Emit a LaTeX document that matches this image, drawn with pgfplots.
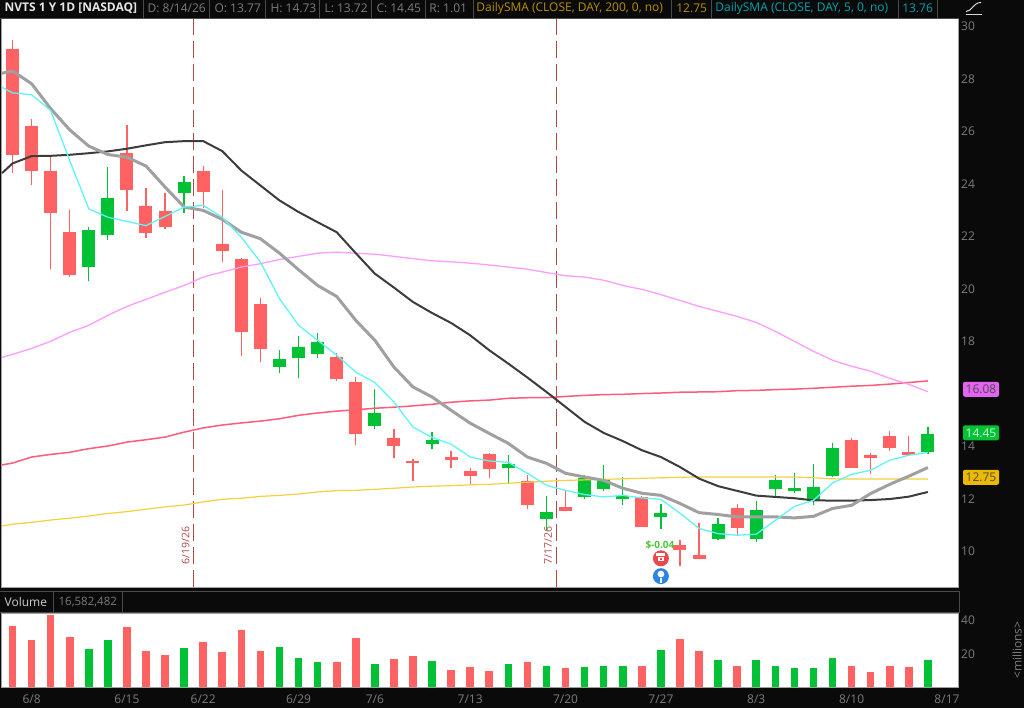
\documentclass[border=0pt]{standalone}
\usepackage{fontspec}
\setmainfont{Open Sans}
\usepackage{pgfplots}
\usepackage{pgfplotstable}
\pgfplotsset{compat=1.18}
\definecolor{bgc}{HTML}{0A0A0A}
\definecolor{sepc}{HTML}{4A4A4A}
\definecolor{txtc}{HTML}{7C7C7C}
\definecolor{cred}{HTML}{FF6262}
\definecolor{cgreen}{HTML}{00C234}
\definecolor{smacy}{HTML}{60F4F4}
\definecolor{smagr}{HTML}{A0A0A0}
\definecolor{smadk}{HTML}{3C3C3C}
\definecolor{smama}{HTML}{FF9CFF}
\definecolor{smare}{HTML}{FF5C7C}
\definecolor{smaye}{HTML}{F4D040}
\definecolor{dashc}{HTML}{B04848}
\definecolor{phonec}{HTML}{E84A4A}
\definecolor{bulbc}{HTML}{2A86E0}
\definecolor{tagma}{HTML}{E264F0}
\definecolor{tagye}{HTML}{EDB800}
\definecolor{hdye}{HTML}{B89000}
\definecolor{hdcy}{HTML}{00A4AE}
% x low high bot top
\pgfplotstableread{
x low high bot top
0 24.41 29.47 25.12 29.15
1 23.97 26.47 24.49 26.20
2 20.74 25.01 22.89 24.51
3 20.45 22.99 20.51 22.16
6 22.96 26.23 23.75 25.17
7 21.92 23.83 22.11 23.15
8 22.30 23.65 22.34 22.95
10 23.07 24.68 23.71 24.51
11 21.02 23.75 21.43 21.71
12 17.43 21.16 18.34 21.12
13 17.20 19.64 17.70 19.41
17 16.48 17.54 16.55 17.40
18 14.04 16.63 14.48 16.45
20 13.54 14.65 14.00 14.31
21 12.67 13.50 13.35 13.43
23 13.16 13.81 13.49 13.59
24 12.55 13.16 12.88 13.05
25 12.78 13.74 13.12 13.71
27 11.60 12.89 11.75 12.67
29 11.55 12.32 11.55 11.69
33 10.93 12.11 10.93 12.07
35 9.44 10.42 10.03 10.24
36 9.72 11.08 9.72 9.87
38 10.61 11.79 10.89 11.65
44 13.16 14.30 13.16 14.23
45 12.93 13.73 13.57 13.65
46 13.81 14.57 13.94 14.38
47 13.66 14.38 13.66 13.80
}\redc
\pgfplotstableread{
x low high bot top
4 20.29 22.35 20.82 22.24
5 21.85 24.64 22.04 23.45
9 22.91 24.29 23.64 24.07
14 16.78 17.66 17.01 17.31
15 16.59 18.19 17.35 17.77
16 17.35 18.30 17.50 17.96
19 14.65 16.17 14.77 15.25
22 13.89 14.53 14.08 14.23
26 12.59 13.66 13.17 13.31
28 10.80 12.11 11.22 11.48
30 11.98 12.89 12.06 12.78
31 12.30 13.28 12.37 12.70
32 11.75 12.83 11.98 12.09
34 10.84 11.79 11.31 11.45
37 10.42 11.26 10.47 11.03
39 10.34 11.90 10.47 11.57
40 12.07 12.89 12.37 12.73
41 12.21 12.98 12.29 12.40
42 11.75 13.31 11.92 12.44
43 12.82 14.11 12.86 13.92
48 13.72 14.73 13.77 14.45
}\greenc
% x sma5cyan grey dark magenta red yellow
\pgfplotstableread{
x cy gr dk ma re ye
-0.55 27.68 28.22 24.41 17.39 13.29 10.96
0 27.47 28.30 24.78 17.50 13.36 11.03
1 27.40 27.82 25.06 17.73 13.59 11.10
2 26.80 26.87 25.07 18.00 13.69 11.19
3 24.89 26.06 25.11 18.34 13.77 11.26
4 23.05 25.44 25.17 18.61 13.91 11.34
5 22.73 25.12 25.24 18.99 14.01 11.44
6 22.57 25.02 25.34 19.33 14.16 11.51
7 22.41 24.68 25.47 19.60 14.25 11.60
8 22.76 23.88 25.59 19.87 14.35 11.69
9 23.12 23.12 25.63 20.13 14.54 11.76
10 23.18 22.99 25.63 20.45 14.70 11.88
11 22.73 22.65 25.25 20.64 14.81 11.98
12 21.97 22.16 24.51 20.83 14.89 12.02
13 21.02 21.91 23.94 20.96 14.96 12.09
14 19.63 21.36 23.37 21.12 15.05 12.13
15 18.61 20.73 22.93 21.24 15.18 12.18
16 18.04 20.13 22.54 21.36 15.27 12.26
17 17.47 19.71 22.16 21.40 15.34 12.31
18 16.83 18.80 21.36 21.36 15.39 12.32
19 16.43 18.04 20.58 21.32 15.45 12.36
20 15.69 17.02 20.05 21.24 15.49 12.40
21 14.73 16.26 19.50 21.15 15.54 12.45
22 14.34 15.88 19.08 21.07 15.60 12.48
23 14.08 15.37 18.70 21.03 15.68 12.50
24 13.59 14.88 18.23 20.98 15.73 12.53
25 13.44 14.49 17.66 20.91 15.76 12.55
26 13.39 14.11 17.15 20.83 15.83 12.59
27 12.97 13.59 16.62 20.75 15.85 12.63
28 12.51 13.35 16.07 20.62 15.85 12.67
29 12.32 12.97 15.50 20.50 15.90 12.70
30 12.16 12.83 14.93 20.45 15.94 12.72
31 12.07 12.70 14.51 20.33 15.97 12.74
32 12.13 12.40 14.20 20.13 15.98 12.76
33 12.03 12.21 13.85 19.98 16.01 12.78
34 11.98 12.13 13.59 19.78 16.03 12.80
35 11.45 11.82 13.21 19.56 16.06 12.82
36 10.87 11.47 12.77 19.33 16.07 12.83
37 10.67 11.40 12.48 19.14 16.08 12.83
38 10.61 11.31 12.30 18.95 16.12 12.83
39 10.65 11.31 12.12 18.72 16.13 12.83
40 11.18 11.31 12.07 18.38 16.16 12.83
41 11.71 11.27 12.02 18.00 16.18 12.83
42 11.94 11.33 11.94 17.62 16.21 12.80
43 12.60 11.63 11.93 17.28 16.25 12.76
44 12.93 11.75 11.93 17.05 16.29 12.75
45 13.09 12.20 11.95 16.86 16.32 12.75
46 13.47 12.55 11.99 16.59 16.37 12.75
47 13.66 12.86 12.08 16.36 16.43 12.75
48 13.76 13.19 12.26 16.08 16.49 12.75
}\smas
\pgfplotstableread{
x v
0 35.9
1 28.0
2 42.2
3 29.4
6 35.1
7 21.2
8 19.2
10 26.3
11 20.6
12 33.9
13 21.2
17 14.7
18 28.8
20 16.7
21 18.6
23 10.2
24 11.6
25 9.6
27 14.7
29 11.0
33 12.7
35 28.2
36 21.2
38 12.2
44 12.7
45 9.0
46 12.7
47 11.6
}\redv
\pgfplotstableread{
x v
4 22.5
5 28.0
9 23.1
14 23.7
15 17.3
16 14.7
19 13.5
22 15.3
26 13.5
28 12.7
30 11.6
31 12.2
32 12.2
34 21.8
37 16.1
39 16.1
40 12.2
41 11.0
42 11.0
43 17.3
48 16.1
}\greenv
\begin{document}
\begin{tikzpicture}[x=1pt,y=1pt]
\fill[bgc] (0,0) rectangle (1024,708);
\begin{axis}[
  at={(1pt,121pt)}, anchor=south west, scale only axis,
  width=957pt, height=569pt,
  xmin=-0.5765, xmax=49.58, ymin=8.629, ymax=30.305,
  axis background/.style={fill=white},
  axis line style={draw=smagr,line width=1pt},
  xtick=\empty,
  ytick={10,12,14,18,20,22,24,26,28,30},
  ytick pos=right, yticklabel pos=right,
  major tick length=0pt,
  yticklabel style={font=\fontsize{12}{14}\selectfont, text=txtc, inner sep=0pt, xshift=3pt,
    /pgf/number format/assume math mode=true},
  clip mode=individual,
]
\addplot[dashc, line width=1.2pt, dash pattern=on 17pt off 6pt, forget plot] coordinates {(9.49,8.629)(9.49,30.305)};
\addplot[dashc, line width=1.2pt, dash pattern=on 17pt off 6pt, forget plot] coordinates {(28.51,8.629)(28.51,30.305)};
% wicks
\addplot[draw=none, mark=none, forget plot, error bars/.cd, y dir=plus, y explicit, error mark=none,
  error bar style={draw=cred,line width=1.3pt}]
  table[x=x,y=low,y error plus expr=\thisrow{high}-\thisrow{low}] {\redc};
\addplot[draw=none, mark=none, forget plot, error bars/.cd, y dir=plus, y explicit, error mark=none,
  error bar style={draw=cgreen,line width=1.3pt}]
  table[x=x,y=low,y error plus expr=\thisrow{high}-\thisrow{low}] {\greenc};
% bodies
\addplot[draw=none, mark=none, forget plot, error bars/.cd, y dir=plus, y explicit, error mark=none,
  error bar style={draw=cred,line width=13pt}]
  table[x=x,y=bot,y error plus expr=\thisrow{top}-\thisrow{bot}] {\redc};
\addplot[draw=none, mark=none, forget plot, error bars/.cd, y dir=plus, y explicit, error mark=none,
  error bar style={draw=cgreen,line width=13pt}]
  table[x=x,y=bot,y error plus expr=\thisrow{top}-\thisrow{bot}] {\greenc};
% moving averages
\addplot[smaye, line width=1.2pt] table[x=x,y=ye] {\smas};
\addplot[smare, line width=1.5pt] table[x=x,y=re] {\smas};
\addplot[smama, line width=1.3pt] table[x=x,y=ma] {\smas};
\addplot[smadk, line width=2pt] table[x=x,y=dk] {\smas};
\addplot[smagr, line width=3pt] table[x=x,y=gr] {\smas};
\addplot[smacy, line width=1.3pt] table[x=x,y=cy] {\smas};
% annotations
\node[rotate=90, text=dashc, font=\fontsize{10.5}{12}\selectfont, inner sep=0pt] at (axis cs:9.08,10.23) {6/19/26};
\node[rotate=90, text=dashc, font=\fontsize{10.5}{12}\selectfont, inner sep=0pt] at (axis cs:28.09,10.23) {7/17/26};
\node[text=cgreen!70!smaye, font=\bfseries\fontsize{10}{12}\selectfont, inner sep=0pt] at (axis cs:33.95,10.23) {\$-0.04};
\fill[phonec] (axis cs:34,9.73) circle[radius=8pt];
\fill[white] (axis cs:33.84,9.62) rectangle (axis cs:34.16,9.78);
\fill[phonec] (axis cs:33.96,9.67) rectangle (axis cs:34.04,9.73);
\fill[white] (axis cs:33.76,9.82) rectangle (axis cs:34.24,9.92);
\fill[bulbc] (axis cs:34,9.05) circle[radius=8pt];
\fill[white] (axis cs:34,9.13) circle[radius=3.4pt];
\fill[white] (axis cs:33.93,8.80) rectangle (axis cs:34.07,8.98);
\end{axis}
\begin{axis}[
  at={(1pt,21pt)}, anchor=south west, scale only axis,
  width=957pt, height=74pt,
  xmin=-0.5765, xmax=49.58, ymin=0, ymax=43.5,
  axis background/.style={fill=white},
  axis line style={draw=smagr,line width=1pt},
  xtick={1,6,10,15,19,24,29,34,39,44,49},
  xticklabels={6/8,6/15,6/22,6/29,7/6,7/13,7/20,7/27,8/3,8/10,8/17},
  xtick pos=bottom,
  ytick={20,40},
  ytick pos=right, yticklabel pos=right,
  major tick length=0pt,
  xticklabel style={font=\fontsize{12}{14}\selectfont, text=txtc, inner sep=0pt, yshift=-7pt},
  yticklabel style={font=\fontsize{12}{14}\selectfont, text=txtc, inner sep=0pt, xshift=3pt, yshift=-1.5pt,
    /pgf/number format/assume math mode=true},
]
\addplot[ycomb, cred, line width=7.6pt, mark=none] table[x=x,y=v] {\redv};
\addplot[ycomb, cgreen, line width=7.6pt, mark=none] table[x=x,y=v] {\greenv};
\end{axis}
% volume header strip
\draw[sepc,line width=1pt] (0,117) -- (959,117);
\draw[sepc,line width=1pt] (0,95.5) -- (959,95.5);
\draw[sepc,line width=1pt] (53,95.5) -- (53,117);
\draw[sepc,line width=1pt] (122,95.5) -- (122,117);
\draw[sepc,line width=1pt] (959,95.5) -- (959,117);
\node[anchor=west,inner sep=0pt,text=white!80!black,font=\fontsize{12}{14}\selectfont] at (4,106) {Volume};
\node[anchor=west,inner sep=0pt,text=txtc,font=\fontsize{11.5}{14}\selectfont] at (58,106) {16,582,482};
\node[rotate=90,inner sep=0pt,text=txtc,font=\fontsize{12}{14}\selectfont] at (1017,58) {<millions>};
% header strip
\draw[sepc,line width=1pt] (0,690) -- (959,690);
\foreach \s in {143,209,265,319,371,425,473,671,711,898,937} {\draw[sepc,line width=1pt] (\s,690) -- (\s,708);}
\tikzset{hd/.style={anchor=west,inner sep=0pt,font=\fontsize{12}{14}\selectfont}}
\node[hd,text=white!90!black,font=\bfseries\fontsize{12}{14}\selectfont] at (4,700) {NVTS 1 Y 1D [NASDAQ]};
\node[hd,text=txtc] at (147,700) {D: 8/14/26};
\node[hd,text=txtc] at (214,700) {O: 13.77};
\node[hd,text=txtc] at (270,700) {H: 14.73};
\node[hd,text=txtc] at (324,700) {L: 13.72};
\node[hd,text=txtc] at (376,700) {C: 14.45};
\node[hd,text=txtc] at (429,700) {R: 1.01};
\node[hd,text=hdye] at (476,700) {DailySMA (CLOSE, DAY, 200, 0, no)};
\node[hd,text=hdye] at (676,700) {12.75};
\node[hd,text=hdcy] at (715,700) {DailySMA (CLOSE, DAY, 5, 0, no)};
\node[hd,text=hdcy] at (902,700) {13.76};
% tool icon
\draw[white!85!black,line width=1pt] (966,693.5) -- (982,693.5);
\draw[white!85!black,line width=1pt] (966,697) .. controls (972,697) and (973,706) .. (981,706);
% price tags
\tikzset{tag/.style={rounded corners=2pt,minimum width=36pt,minimum height=15pt,inner sep=0pt,font=\fontsize{12}{14}\selectfont}}
\node[tag,fill=tagma,text=black!70] at (981,319) {16.08};
\node[tag,fill=cgreen,text=white!85!cgreen] at (981,275.5) {14.45};
\node[tag,fill=tagye,text=black!70] at (981,231) {12.75};
\end{tikzpicture}
\end{document}
